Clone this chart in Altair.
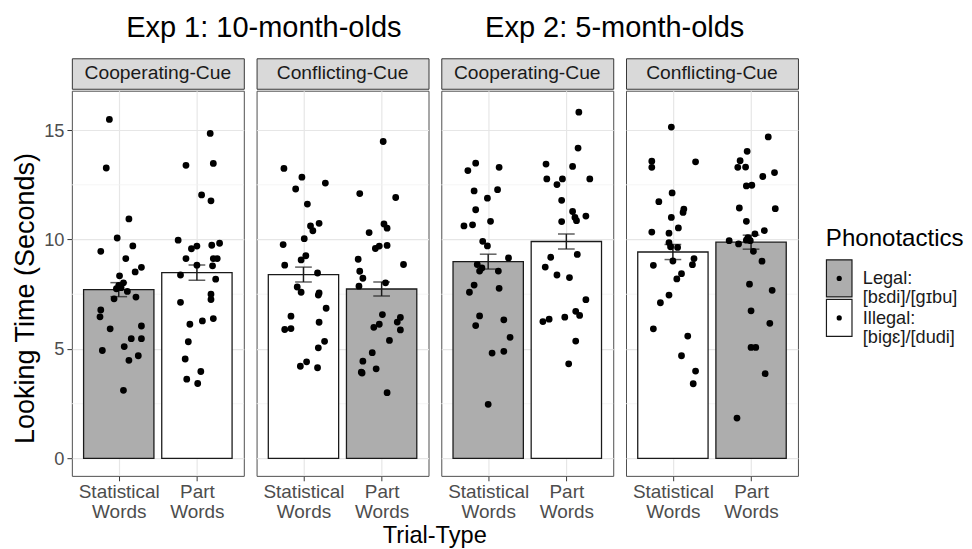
import json
import altair as alt
import pandas as pd

experiments = ["Exp 1: 10-month-olds", "Exp 2: 5-month-olds"]
conditions = ["Cooperating-Cue", "Conflicting-Cue"]
trial_types = ["Statistical Words", "Part Words"]
phon_levels = ["Legal", "Illegal"]
phon_labels = ["Legal:\n[bɛdi]/[gɪbu]", "Illegal:\n[bigɛ]/[dudi]"]

# phonotactic status of [Statistical Words, Part Words] in each panel
panel_phon = [["Legal", "Illegal"], ["Illegal", "Legal"], ["Legal", "Illegal"], ["Illegal", "Legal"]]
bar_means = [[7.71, 8.49], [8.40, 7.74], [8.99, 9.91], [9.43, 9.88]]
bar_se = [[0.32, 0.35], [0.34, 0.32], [0.34, 0.34], [0.345, 0.32]]

# individual looking times (seconds) and horizontal jitter (in category units)
e1_coop_sw = [15.49, 13.27, 10.94, 10.07, 9.46, 9.71, 9.13, 8.73, 8.52, 8.34, 8.02, 7.90, 7.75, 7.80,
              7.63, 7.29, 7.37, 6.78, 6.47, 5.92, 6.05, 5.47, 5.47, 5.11, 4.93, 4.69, 4.48, 3.11]
e1_coop_sw_jit = [-0.12, -0.16, 0.13, -0.02, -0.23, 0.18, 0.09, 0.29, 0.21, 0.01, 0.06, 0.00, -0.03, 0.03,
                  0.11, -0.06, 0.22, -0.23, -0.24, -0.11, 0.29, 0.16, 0.29, 0.07, -0.21, 0.25, 0.13, 0.06]
e1_coop_pw = [14.85, 13.39, 13.48, 12.04, 11.77, 9.97, 9.58, 9.70, 9.74, 9.83, 9.13, 9.13, 9.13, 8.83,
              8.80, 8.38, 8.19, 7.50, 7.26, 7.13, 6.13, 6.28, 6.39, 5.33, 4.54, 3.97, 3.62, 3.42]
e1_coop_pw_jit = [0.17, -0.14, 0.21, 0.06, 0.18, -0.24, -0.07, 0.00, 0.19, 0.29, -0.14, 0.21, 0.26, 0.00,
                  0.20, -0.21, 0.24, 0.18, 0.18, -0.21, -0.09, 0.07, 0.21, -0.11, -0.15, 0.05, -0.13, 0.01]

e1_conf_sw = [13.25, 12.85, 12.31, 12.58, 11.62, 10.62, 10.74, 10.40, 10.04, 9.77, 9.26, 9.07, 8.83, 8.47,
              7.83, 7.59, 7.56, 7.46, 6.86, 6.50, 5.89, 5.93, 6.22, 5.35, 5.05, 4.21, 4.41, 4.14]
e1_conf_sw_jit = [-0.25, -0.02, -0.10, 0.28, 0.05, 0.09, 0.20, 0.12, 0.01, -0.26, 0.03, -0.03, -0.24, 0.18,
                  -0.08, -0.03, 0.20, 0.19, 0.29, -0.16, -0.24, -0.16, 0.20, 0.27, 0.19, -0.04, 0.04, 0.18]
e1_conf_pw = [14.48, 12.10, 11.92, 10.71, 10.52, 10.32, 9.59, 9.70, 9.73, 9.10, 8.86, 8.55, 8.23, 7.87,
              8.02, 6.57, 6.44, 6.23, 5.87, 5.99, 6.13, 5.39, 4.83, 4.44, 3.94, 3.90, 4.09, 3.00]
e1_conf_pw_jit = [0.02, -0.28, 0.18, 0.03, 0.07, -0.16, -0.08, -0.03, 0.07, -0.30, 0.28, -0.28, -0.24, -0.29,
                  0.05, 0.01, 0.24, 0.20, 0.24, -0.10, -0.03, 0.10, -0.12, -0.24, -0.26, -0.25, -0.07, 0.07]

e2_coop_sw = [13.49, 13.15, 13.30, 12.22, 12.28, 11.89, 11.36, 10.62, 10.67, 10.83, 9.92, 9.71, 9.16, 8.86,
              8.70, 8.56, 8.56, 7.92, 7.59, 7.77, 6.51, 6.07, 6.33, 5.53, 4.81, 4.89, 2.47]
e2_coop_sw_jit = [-0.16, -0.26, 0.14, -0.18, 0.12, -0.01, -0.16, -0.31, -0.20, 0.03, -0.07, -0.01, 0.26, -0.14,
                  -0.08, -0.11, 0.13, -0.18, -0.24, 0.14, -0.11, -0.16, 0.20, 0.28, 0.05, 0.20, 0.00]
e2_coop_pw = [15.82, 14.18, 13.45, 13.34, 12.77, 12.77, 12.51, 12.77, 11.79, 11.28, 11.01, 10.86, 11.07, 10.82,
              9.32, 9.19, 8.74, 8.38, 8.26, 7.25, 6.72, 6.53, 6.45, 6.25, 6.36, 5.36, 4.32]
e2_coop_pw_jit = [0.16, 0.15, -0.26, 0.08, -0.25, -0.05, -0.12, 0.30, -0.06, 0.08, 0.11, 0.13, 0.25, -0.06,
                  0.14, -0.20, -0.27, -0.12, 0.04, 0.25, 0.12, 0.17, -0.02, -0.30, -0.22, 0.12, 0.03]

e2_conf_sw = [15.14, 13.58, 13.30, 13.55, 12.13, 11.73, 11.39, 11.24, 11.01, 10.53, 10.34, 10.29, 9.86, 9.67,
              9.64, 9.02, 9.13, 8.85, 8.82, 8.44, 8.20, 7.46, 7.11, 5.92, 5.59, 4.69, 3.99, 3.41]
e2_conf_sw_jit = [-0.02, -0.27, -0.27, 0.29, -0.01, -0.18, 0.14, 0.13, -0.02, 0.07, -0.27, -0.05, -0.05, -0.03,
                  0.06, 0.00, 0.27, 0.25, -0.25, 0.11, 0.05, -0.05, -0.16, -0.25, 0.19, 0.11, 0.29, 0.26]
e2_conf_pw = [14.69, 14.03, 13.60, 13.30, 13.31, 13.06, 12.88, 12.45, 12.48, 11.44, 11.41, 10.83, 10.41, 10.26,
              10.09, 9.95, 9.97, 9.95, 9.80, 9.46, 9.01, 7.96, 7.68, 6.74, 6.17, 5.07, 5.07, 3.87, 1.84]
e2_conf_pw_jit = [0.22, -0.05, -0.14, -0.17, -0.07, 0.30, 0.15, -0.06, 0.01, -0.15, 0.31, -0.06, 0.17, 0.05,
                  -0.04, -0.01, -0.06, -0.28, -0.16, 0.03, 0.14, -0.02, 0.27, 0.00, 0.24, 0.00, 0.06, 0.18, -0.18]

y_breaks = [0, 5, 10, 15]
y_minor = [2.5, 7.5, 12.5]

panel_points = [
    [(e1_coop_sw, e1_coop_sw_jit), (e1_coop_pw, e1_coop_pw_jit)],
    [(e1_conf_sw, e1_conf_sw_jit), (e1_conf_pw, e1_conf_pw_jit)],
    [(e2_coop_sw, e2_coop_sw_jit), (e2_coop_pw, e2_coop_pw_jit)],
    [(e2_conf_sw, e2_conf_sw_jit), (e2_conf_pw, e2_conf_pw_jit)],
]

FONT = "Liberation Sans"
PW, PH = 175, 392
GRID = "#E6E6E6"
fill_scale = alt.Scale(domain=phon_levels, range=["#ADADAD", "#FFFFFF"])
y_scale = alt.Scale(domain=[-0.8, 16.8], nice=False, zero=False)
x_scale = alt.Scale(domain=[0.4, 2.6], nice=False, zero=False)
x_label_expr = "datum.value == 1 ? %s : %s" % (json.dumps(trial_types[0].split()), json.dumps(trial_types[1].split()))


def make_panel(i):
    cond_i = i % 2
    first = i == 0
    bars = pd.DataFrame({
        "pos": [1, 2],
        "trial": trial_types,
        "phon": panel_phon[i],
        "mean": bar_means[i],
        "se": bar_se[i],
    })
    bars["lo"] = bars["mean"] - bars["se"]
    bars["hi"] = bars["mean"] + bars["se"]
    rows = []
    for k, (vals, jit) in enumerate(panel_points[i]):
        for v, j in zip(vals, jit, strict=True):
            rows.append({"pos": k + 1, "jit": j, "time": v})
    pts = pd.DataFrame(rows)

    if first:
        y_axis = alt.Axis(values=y_breaks, grid=True, gridColor=GRID, gridWidth=1.2, domain=False,
                          tickColor="#333333", tickSize=5, tickWidth=1, labelColor="#4D4D4D",
                          labelFontSize=18.6, labelPadding=3, titleFontSize=27.5, titleFontWeight="normal",
                          titleColor="#000000", titlePadding=4, titleY=PH / 2 + 15)
        y_title = "Looking Time (Seconds)"
    else:
        y_axis = alt.Axis(values=y_breaks, grid=True, gridColor=GRID, gridWidth=1.2, domain=False,
                          ticks=False, labels=False)
        y_title = None
    x_axis = alt.Axis(values=[1, 2], labelExpr=x_label_expr, grid=True, gridColor=GRID, gridWidth=1.2,
                      domain=False, tickColor="#333333", tickSize=5, tickWidth=1, labelColor="#4D4D4D",
                      labelFontSize=19.3, labelLineHeight=20.5, labelPadding=2)

    def Y(field):
        return alt.Y(field, scale=y_scale, axis=y_axis, title=y_title)

    def X(field):
        return alt.X(field, scale=x_scale, axis=x_axis, title=None)

    minor = alt.Chart(pd.DataFrame({"v": y_minor})).mark_rule(color="#F2F2F2", strokeWidth=0.8).encode(
        y=Y("v:Q"),
    )
    bar = alt.Chart(bars).transform_calculate(
        x0="datum.pos - 0.45", x1="datum.pos + 0.45"
    ).mark_bar(stroke="#1A1A1A", strokeWidth=1.3).encode(
        x=X("x0:Q"),
        x2="x1:Q",
        y=Y("mean:Q"),
        y2=alt.datum(0),
        fill=alt.Fill("phon:N", scale=fill_scale, legend=None),
    )
    err = alt.Chart(bars).mark_errorbar(ticks=alt.MarkConfig(size=17), color="#1A1A1A", thickness=1.5).encode(
        x=X("pos:Q"),
        y=Y("lo:Q"),
        y2="hi:Q",
    )
    dots = alt.Chart(pts).transform_calculate(xj="datum.pos + datum.jit").mark_circle(
        size=48, color="#000000", opacity=1
    ).encode(
        x=X("xj:Q"),
        y=Y("time:Q"),
    )
    plot = alt.layer(minor, bar, err, dots).properties(
        width=PW, height=PH, view=alt.ViewBackground(stroke="#4D4D4D", strokeWidth=1)
    )
    strip = alt.Chart(pd.DataFrame({"label": [conditions[cond_i]]})).mark_text(
        fontSize=19.6, color="#1A1A1A", font=FONT
    ).encode(text="label:N").properties(
        width=PW, height=31, view=alt.ViewBackground(fill="#D9D9D9", stroke="#333333", strokeWidth=1)
    )
    return alt.vconcat(strip, plot, spacing=0)


exp_groups = []
for e, dx in zip(range(2), [44, -5]):
    g = alt.hconcat(make_panel(2 * e), make_panel(2 * e + 1), spacing=11).properties(
        title=alt.TitleParams(experiments[e], fontSize=29.5, fontWeight="normal", color="#000000",
                              anchor="middle", dx=dx, offset=15)
    )
    exp_groups.append(g)

main = alt.hconcat(*exp_groups, spacing=11).properties(
    title=alt.TitleParams("Trial-Type", orient="bottom", fontSize=24, fontWeight="normal",
                          color="#000000", anchor="middle", dx=30, offset=2)
)

leg_df = pd.DataFrame({"phon": phon_levels, "label": phon_labels})
leg_y = alt.Y("phon:N", sort=phon_levels, axis=None, scale=alt.Scale(paddingInner=0.06, paddingOuter=0))
leg_rect = alt.Chart(leg_df).mark_rect(stroke="#1A1A1A", strokeWidth=1.2).encode(
    y=leg_y, x=alt.value(0), x2=alt.value(26),
    fill=alt.Fill("phon:N", scale=fill_scale, legend=None),
)
leg_dot = alt.Chart(leg_df).mark_circle(size=28, color="#000000", opacity=1).encode(
    y=leg_y, x=alt.value(13)
)
leg_txt = alt.Chart(leg_df).mark_text(
    align="left", baseline="middle", fontSize=18.5, lineHeight=19.5, lineBreak="\n", color="#1A1A1A", font=FONT
).encode(y=leg_y, x=alt.value(37), text="label:N")
legend = alt.layer(leg_rect, leg_dot, leg_txt).properties(
    width=132, height=78,
    title=alt.TitleParams("Phonotactics", anchor="start", fontSize=24.5, fontWeight="normal",
                          color="#000000", offset=8),
    view=alt.ViewBackground(stroke=None),
)

chart = alt.hconcat(main, legend, spacing=27, center=True).properties(
    padding={"left": 3, "top": 0, "right": 0, "bottom": 0}
).configure(font=FONT).configure_view(stroke="#4D4D4D")

chart.save("out.html", embed_options={"renderer": "svg", "actions": False})
